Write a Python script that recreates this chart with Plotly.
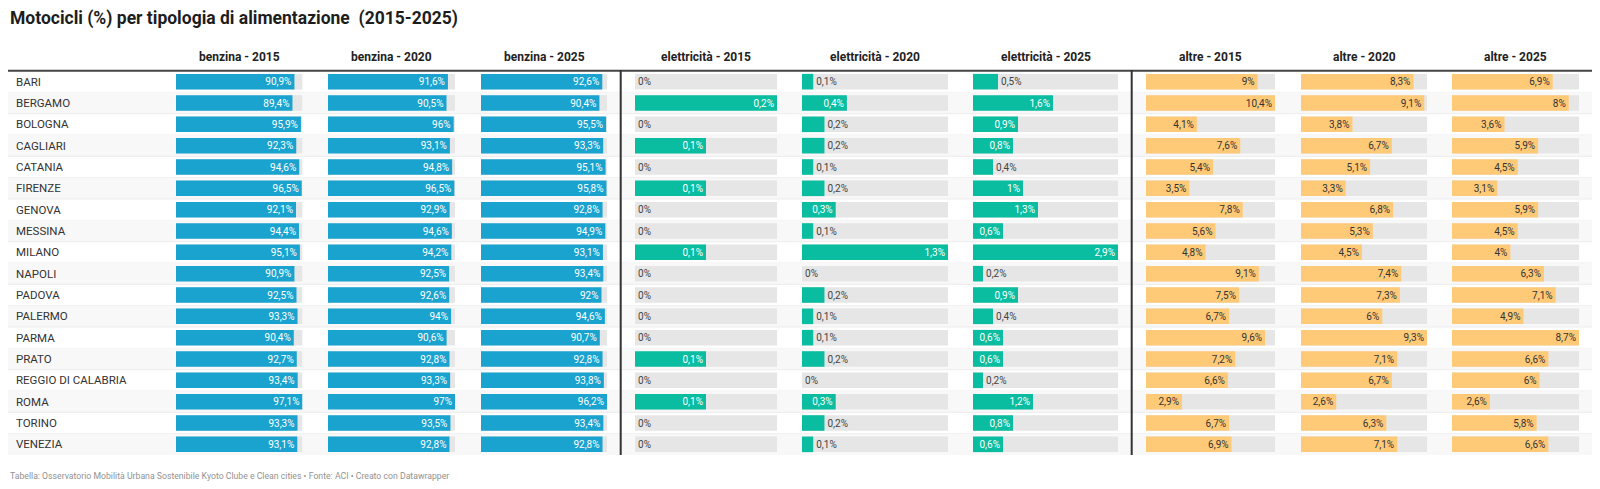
import plotly.graph_objects as go

citta = ["BARI", "BERGAMO", "BOLOGNA", "CAGLIARI", "CATANIA", "FIRENZE", "GENOVA",
         "MESSINA", "MILANO", "NAPOLI", "PADOVA", "PALERMO", "PARMA", "PRATO",
         "REGGIO DI CALABRIA", "ROMA", "TORINO", "VENEZIA"]

benzina_2015 = [90.9, 89.4, 95.9, 92.3, 94.6, 96.5, 92.1, 94.4, 95.1, 90.9, 92.5, 93.3, 90.4, 92.7, 93.4, 97.1, 93.3, 93.1]
benzina_2020 = [91.6, 90.5, 96, 93.1, 94.8, 96.5, 92.9, 94.6, 94.2, 92.5, 92.6, 94, 90.6, 92.8, 93.3, 97, 93.5, 92.8]
benzina_2025 = [92.6, 90.4, 95.5, 93.3, 95.1, 95.8, 92.8, 94.9, 93.1, 93.4, 92, 94.6, 90.7, 92.8, 93.8, 96.2, 93.4, 92.8]
elettricita_2015 = [0, 0.2, 0, 0.1, 0, 0.1, 0, 0, 0.1, 0, 0, 0, 0, 0.1, 0, 0.1, 0, 0]
elettricita_2020 = [0.1, 0.4, 0.2, 0.2, 0.1, 0.2, 0.3, 0.1, 1.3, 0, 0.2, 0.1, 0.1, 0.2, 0, 0.3, 0.2, 0.1]
elettricita_2025 = [0.5, 1.6, 0.9, 0.8, 0.4, 1, 1.3, 0.6, 2.9, 0.2, 0.9, 0.4, 0.6, 0.6, 0.2, 1.2, 0.8, 0.6]
altre_2015 = [9, 10.4, 4.1, 7.6, 5.4, 3.5, 7.8, 5.6, 4.8, 9.1, 7.5, 6.7, 9.6, 7.2, 6.6, 2.9, 6.7, 6.9]
altre_2020 = [8.3, 9.1, 3.8, 6.7, 5.1, 3.3, 6.8, 5.3, 4.5, 7.4, 7.3, 6, 9.3, 7.1, 6.7, 2.6, 6.3, 7.1]
altre_2025 = [6.9, 8, 3.6, 5.9, 4.5, 3.1, 5.9, 4.5, 4, 6.3, 7.1, 4.9, 8.7, 6.6, 6, 2.6, 5.8, 6.6]

colonne = ["benzina - 2015", "benzina - 2020", "benzina - 2025",
           "elettricità - 2015", "elettricità - 2020", "elettricità - 2025",
           "altre - 2015", "altre - 2020", "altre - 2025"]
serie = [benzina_2015, benzina_2020, benzina_2025,
         elettricita_2015, elettricita_2020, elettricita_2025,
         altre_2015, altre_2020, altre_2025]

# la pagina ha 8px di margine sul body: la figura sta dentro 1600x489 meno i margini
OFF = 8
W, H = 1600 - 2 * OFF, 489 - 2 * OFF
FONT = "Roboto"
BLU, VERDE, ARANCIO, GRIGIO = "#1aa3cf", "#0abda0", "#ffca78", "#e6e6e6"
colori = [BLU] * 3 + [VERDE] * 3 + [ARANCIO] * 3
testo_dentro = ["white"] * 6 + ["#333333"] * 3

# posizioni in pixel (pagina) delle colonne (inizio, fine barra)
pos_colonne = [(176, 302.5), (328, 455), (481, 607),
               (635, 777), (802, 948), (973, 1118),
               (1146, 1275), (1301, 1427), (1452, 1579)]
y_top, y_bot = 71, 455


def px_x(v):
    return (v - OFF) / W


def px_y(v):
    return 1 - (v - OFF) / H


def etichetta(v):
    return f"{v:g}".replace(".", ",") + "%"


fig = go.Figure()
layout_assi = {}

for i, (nome, valori) in enumerate(zip(colonne, serie)):
    n = "" if i == 0 else str(i + 1)
    massimo = max(valori)
    x0, x1 = pos_colonne[i]
    layout_assi["xaxis" + n] = dict(domain=[px_x(x0), px_x(x1)], range=[0, massimo],
                                    visible=False, fixedrange=True)
    # sfondo grigio
    fig.add_trace(go.Bar(
        x=[massimo] * len(citta), y=citta, orientation="h",
        xaxis="x" + n, yaxis="y", marker=dict(color=GRIGIO, line=dict(width=0)),
        hoverinfo="skip", showlegend=False))
    posizioni = ["inside" if v / massimo > 0.19 else "outside" for v in valori]
    fig.add_trace(go.Bar(
        x=valori, y=citta, orientation="h",
        xaxis="x" + n, yaxis="y", marker=dict(color=colori[i], line=dict(width=0)),
        text=[etichetta(v) for v in valori], textposition=posizioni,
        insidetextanchor="end", textangle=0, constraintext="none", cliponaxis=False,
        insidetextfont=dict(family=FONT, size=10, color=testo_dentro[i]),
        outsidetextfont=dict(family=FONT, size=10, color="#444444"),
        hovertemplate="%{y}: %{text}<extra></extra>", showlegend=False))

shapes = []
# righe alternate
for r in range(len(citta)):
    if r % 2 == 1:
        shapes.append(dict(type="rect", xref="paper", yref="y", x0=px_x(8), x1=px_x(1592),
                           y0=r - 0.5, y1=r + 0.5, fillcolor="#f8f8f8",
                           line=dict(width=0), layer="below"))
    if r < len(citta) - 1:
        shapes.append(dict(type="line", xref="paper", yref="y", x0=px_x(8), x1=px_x(1592),
                           y0=r + 0.5, y1=r + 0.5, line=dict(color="#ececec", width=1),
                           layer="below"))
# linea sotto intestazione
shapes.append(dict(type="line", xref="paper", yref="paper", x0=px_x(8), x1=px_x(1592),
                   y0=px_y(70.7), y1=px_y(70.7), line=dict(color="#444444", width=2)))
# separatori verticali
for xs in (620.7, 1131.7):
    shapes.append(dict(type="line", xref="paper", yref="paper", x0=px_x(xs), x1=px_x(xs),
                       y0=px_y(70), y1=px_y(y_bot), line=dict(color="#333333", width=2)))

annotations = [dict(text="Motocicli (%) per tipologia di alimentazione  (2015-2025)",
                    xref="paper", yref="paper", x=px_x(8), y=px_y(18.3),
                    xanchor="left", yanchor="middle", showarrow=False,
                    font=dict(family=FONT, size=17.5, color="#1d1d1d", weight=700))]
for nome, (x0, x1) in zip(colonne, pos_colonne):
    annotations.append(dict(text=nome, xref="paper", yref="paper", x=px_x((x0 + x1) / 2),
                            y=px_y(57.3), xanchor="center", yanchor="middle", showarrow=False,
                            font=dict(family=FONT, size=12, color="#222222", weight=700)))
for c in citta:
    annotations.append(dict(text=c, xref="paper", yref="y", x=px_x(14), y=c,
                            xanchor="left", yanchor="middle", showarrow=False,
                            font=dict(family=FONT, size=11.5, color="#333333")))
annotations.append(dict(
    text="Tabella: Osservatorio Mobilità Urbana Sostenibile Kyoto Clube e Clean cities • Fonte: ACI • Creato con Datawrapper",
    xref="paper", yref="paper", x=px_x(8), y=px_y(476), xanchor="left", yanchor="middle",
    showarrow=False, font=dict(family=FONT, size=8.7, color="#929292")))

fig.update_layout(
    width=W, height=H, margin=dict(l=0, r=0, t=0, b=0),
    paper_bgcolor="white", plot_bgcolor="rgba(0,0,0,0)",
    barmode="overlay", bargap=0.27,
    yaxis=dict(domain=[px_y(y_bot), px_y(y_top)], type="category", categoryarray=citta,
               categoryorder="array", autorange="reversed", visible=False, fixedrange=True),
    shapes=shapes, annotations=annotations, font=dict(family=FONT),
    **layout_assi)

fig.write_html("out.html")
